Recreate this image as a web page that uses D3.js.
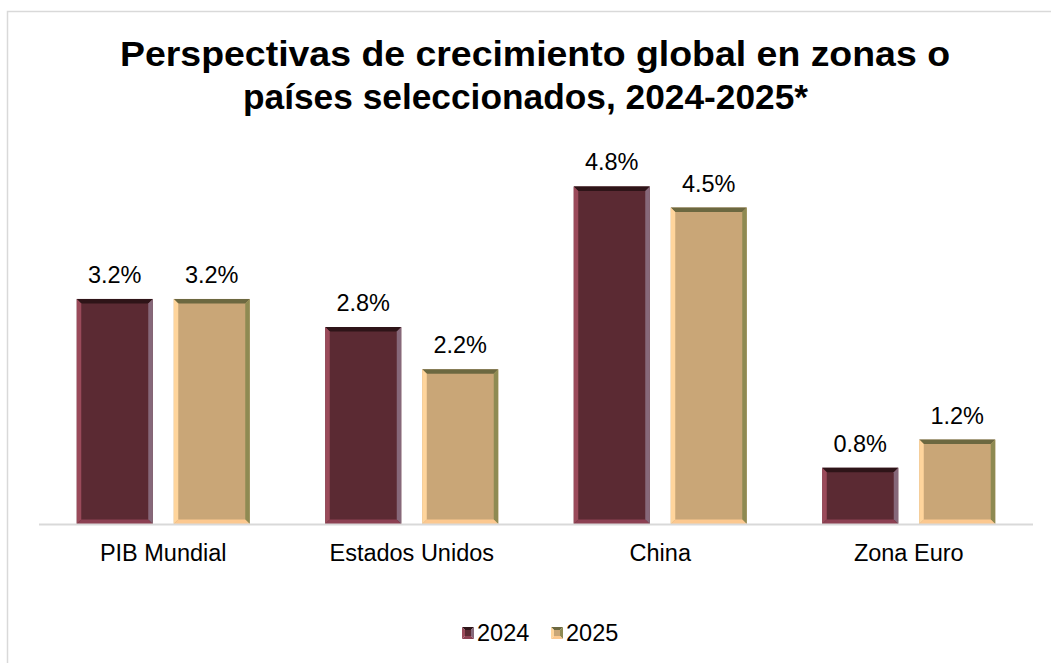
<!DOCTYPE html>
<html><head><meta charset="utf-8">
<script src="https://cdn.jsdelivr.net/npm/d3@7"></script>
<style>
html,body{margin:0;padding:0;background:#fff;}
svg{display:block;}
text{font-family:"Liberation Sans",Arial,sans-serif;fill:#000;}
</style></head>
<body>
<script>
const categories = ["PIB Mundial","Estados Unidos","China","Zona Euro"];
const seriesNames = ["2024","2025"];
const values2024 = [3.2, 2.8, 4.8, 0.8];
const values2025 = [3.2, 2.2, 4.5, 1.2];
const titleLines = ["Perspectivas de crecimiento global en zonas o","países seleccionados, 2024-2025*"];

const W = 1051, H = 663;
const palettes = {
  "2024": {face:"#5b2a33", top:"#2e1418", left:"#9a4a5a", right:"#86687a", bottom:"#8c4052"},
  "2025": {face:"#c9a677", top:"#6c6840", left:"#ffd59c", right:"#8e8a52", bottom:"#fcc88f"}
};

const svg = d3.select("body").append("svg").attr("width", W).attr("height", H);

// chart frame
svg.append("rect").attr("x",7.5).attr("y",11.5).attr("width",1100).attr("height",700)
  .attr("fill","#fff").attr("stroke","#d9d9d9").attr("stroke-width",1.5);

// title
const titleLayout = [{cx:535, w:830}, {cx:525.5, w:565}];
svg.append("g").selectAll("text").data(titleLines).join("text")
  .attr("x", (d,i)=>titleLayout[i].cx).attr("y",(d,i)=>66+i*43)
  .attr("text-anchor","middle").attr("font-weight","bold").attr("font-size",35)
  .attr("textLength",(d,i)=>titleLayout[i].w).attr("lengthAdjust","spacingAndGlyphs")
  .text(d=>d);

const plotL = 39, plotR = 1033;
const x0 = d3.scaleBand().domain(categories).range([plotL, plotR]).paddingInner(0).paddingOuter(0);
const groupW = 173, outer = (x0.bandwidth()-groupW)/2;
const x1 = d3.scaleBand().domain(seriesNames).range([outer, outer+groupW]).paddingInner(21/97).paddingOuter(0);
const y = d3.scaleLinear().domain([0,6]).range([524, 102]);

const data = [];
categories.forEach((c,i)=>{
  data.push({cat:c, s:"2024", v:values2024[i]});
  data.push({cat:c, s:"2025", v:values2025[i]});
});

function bevelBar(g, x, yTop, w, h, p){
  const b = Math.min(4.5, h/2, w/2);
  const x2 = x+w, y2 = yTop+h;
  g.append("rect").attr("x",x).attr("y",yTop).attr("width",w).attr("height",h).attr("fill",p.face);
  const poly = (pts, fill)=>g.append("polygon").attr("points",pts.map(q=>q.join(",")).join(" ")).attr("fill",fill);
  poly([[x,yTop],[x2,yTop],[x2-b,yTop+b],[x+b,yTop+b]], p.top);
  poly([[x,yTop],[x+b,yTop+b],[x+b,y2-b],[x,y2]], p.left);
  poly([[x2,yTop],[x2,y2],[x2-b,y2-b],[x2-b,yTop+b]], p.right);
  poly([[x,y2],[x+b,y2-b],[x2-b,y2-b],[x2,y2]], p.bottom);
}

const barsG = svg.append("g");
data.forEach(d=>{
  const bx = x0(d.cat) + x1(d.s);
  const bw = x1.bandwidth();
  const yt = y(d.v);
  bevelBar(barsG.append("g"), bx, yt, bw, y(0)-yt, palettes[d.s]);
});

// axis line
svg.append("line").attr("x1",plotL).attr("x2",plotR).attr("y1",524.5).attr("y2",524.5)
  .attr("stroke","#d9d9d9").attr("stroke-width",2);

// data labels
svg.append("g").selectAll("text").data(data).join("text")
  .attr("x", d=>x0(d.cat)+x1(d.s)+x1.bandwidth()/2)
  .attr("y", d=>y(d.v)-16)
  .attr("text-anchor","middle").attr("font-size",23.5)
  .text(d=>d.v.toFixed(1)+"%");

// category labels
svg.append("g").selectAll("text").data(categories).join("text")
  .attr("x", d=>x0(d)+x0.bandwidth()/2).attr("y",561)
  .attr("text-anchor","middle").attr("font-size",23.5).text(d=>d);

// legend
const legendX = [462, 551];
const lg = svg.append("g");
seriesNames.forEach((s,i)=>{
  const p = palettes[s];
  const lx = legendX[i], ly = 627, sz = 12;
  const cx = lx+sz/2, cy = ly+sz/2;
  const g = lg.append("g");
  const tri = (pts, fill)=>g.append("polygon").attr("points",pts.map(q=>q.join(",")).join(" ")).attr("fill",fill);
  tri([[lx,ly],[lx+sz,ly],[cx,cy]], p.top);
  tri([[lx,ly],[cx,cy],[lx,ly+sz]], p.left);
  tri([[lx+sz,ly],[lx+sz,ly+sz],[cx,cy]], p.right);
  tri([[lx,ly+sz],[cx,cy],[lx+sz,ly+sz]], p.bottom);
  g.append("rect").attr("x",lx+3).attr("y",ly+3).attr("width",sz-6).attr("height",sz-6).attr("fill",p.face);
  lg.append("text").attr("x",lx+sz+3).attr("y",641).attr("font-size",23.5).text(s);
});
</script>
</body></html>
